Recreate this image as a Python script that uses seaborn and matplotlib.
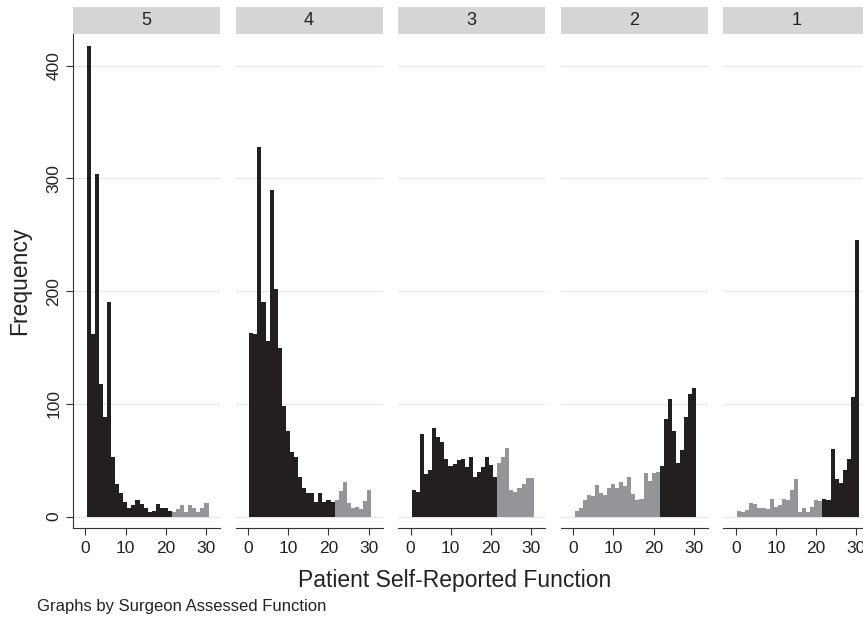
import numpy as np
import pandas as pd
import matplotlib
matplotlib.use("Agg")
import matplotlib.pyplot as plt
import seaborn as sns
from matplotlib.patches import Rectangle

# ---------------- data ----------------
panels = ["5", "4", "3", "2", "1"]          # Surgeon Assessed Function
counts_5 = [417, 162, 304, 118, 88, 190, 53, 29, 21, 13, 8, 10, 15, 11, 8, 4, 5, 11, 8, 8, 5,
            4, 7, 10, 4, 10, 8, 4, 8, 12]
counts_4 = [163, 162, 328, 190, 156, 290, 202, 150, 98, 76, 57, 53, 35, 25, 21, 21, 13, 21, 13, 15, 13,
            15, 23, 31, 12, 8, 9, 7, 14, 24]
counts_3 = [24, 22, 73, 38, 41, 79, 71, 66, 51, 45, 47, 50, 51, 44, 53, 35, 40, 44, 53, 46, 35,
            48, 53, 61, 24, 22, 25, 29, 34, 34]
counts_2 = [5, 8, 15, 19, 18, 28, 21, 19, 25, 29, 25, 31, 27, 35, 20, 15, 16, 39, 32, 39, 40,
            45, 87, 104, 76, 48, 59, 88, 109, 114]
counts_1 = [5, 4, 6, 12, 11, 8, 8, 7, 16, 9, 10, 16, 15, 24, 33, 4, 8, 4, 9, 15, 14,
            16, 15, 60, 33, 30, 41, 51, 106, 245]
counts = {"5": counts_5, "4": counts_4, "3": counts_3, "2": counts_2, "1": counts_1}
low_is_dark = {"5": True, "4": True, "3": True, "2": False, "1": False}
split_bin = 21
bin_lo, bin_hi, n_bins = 0.35, 30.65, 30
xticks = [0, 10, 20, 30]
yticks = [0, 100, 200, 300, 400]

DARK = "#231f20"
LIGHT = "#939598"

sns.set_theme(style="ticks")
plt.rcParams["font.family"] = ["Liberation Sans", "DejaVu Sans"]

edges = np.linspace(bin_lo, bin_hi, n_bins + 1)
centers = (edges[:-1] + edges[1:]) / 2
edge_list = [float(e) for e in edges]

W, H = 863, 617
fig = plt.figure(figsize=(W / 100, H / 100), dpi=100, facecolor="white")

ax_left0, step, ax_w = 73.0, 162.6, 147.0
ax_top, ax_bot = 34.3, 528.3
ax_h = ax_bot - ax_top
strip_h = 27.0

for i, p in enumerate(panels):
    ax = fig.add_axes([(ax_left0 + i * step) / W, (H - ax_bot) / H, ax_w / W, ax_h / H])
    c = np.array(counts[p], dtype=float)
    low = np.arange(n_bins) < split_bin
    dark = low if low_is_dark[p] else ~low
    df = pd.DataFrame({"x": centers, "n": c, "shade": np.where(dark, "dark", "light")})
    sns.histplot(data=df, x="x", weights="n", hue="shade", hue_order=["dark", "light"],
                 bins=edge_list, palette={"dark": DARK, "light": LIGHT},
                 element="step", fill=True, alpha=1, linewidth=0, legend=False, ax=ax)
    ax.set_xlim(-3.06, 33.5)
    ax.set_ylim(-10.3, 427.8)
    ax.set_xticks(xticks)
    ax.set_yticks(yticks)
    ax.set_xlabel("")
    ax.set_ylabel("")
    ax.yaxis.grid(True, color="#e6e6e6", lw=0.9)
    ax.xaxis.grid(False)
    ax.set_axisbelow(True)
    for s in ["top", "right"]:
        ax.spines[s].set_visible(False)
    ax.spines["bottom"].set_color("#333333")
    ax.spines["bottom"].set_linewidth(0.8)
    ax.tick_params(axis="x", direction="out", length=5, width=0.8, color="#333333",
                   labelsize=12.5, pad=4, labelcolor="#222222")
    if i == 0:
        ax.spines["left"].set_color("#333333")
        ax.spines["left"].set_linewidth(0.8)
        ax.tick_params(axis="y", direction="out", length=5, width=0.8, color="#333333",
                       labelsize=12.5, pad=3.5, labelcolor="#222222")
        for lab in ax.get_yticklabels():
            lab.set_rotation(90)
            lab.set_va("center")
    else:
        ax.spines["left"].set_visible(False)
        ax.tick_params(axis="y", left=False, labelleft=False)
    ax.add_patch(Rectangle((0, 1), 1, strip_h / ax_h, transform=ax.transAxes,
                           clip_on=False, facecolor="#d5d5d7", edgecolor="none"))
    ax.text(0.5, 1 + strip_h / ax_h / 2, p, transform=ax.transAxes, ha="center",
            va="center", fontsize=13, color="#222222")

fig.text(20 / W, 1 - 281 / H, "Frequency", rotation=90, ha="center", va="center",
         fontsize=16.5, color="#222222")
fig.text(455 / W, 1 - 580 / H, "Patient Self-Reported Function", ha="center", va="center",
         fontsize=16.5, color="#222222")
fig.text(37 / W, 1 - 607 / H, "Graphs by Surgeon Assessed Function", ha="left", va="center",
         fontsize=12, color="#222222")

fig.savefig("out.png", dpi=100, facecolor="white")
